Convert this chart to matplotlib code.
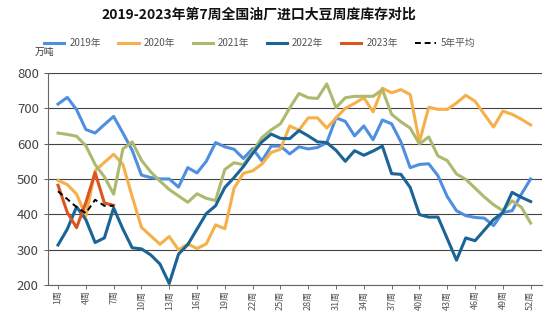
import numpy as np
import matplotlib
matplotlib.use('Agg')
import matplotlib.pyplot as plt

plt.rcParams['font.family'] = ['Noto Sans CJK SC', 'DejaVu Sans']

weeks = np.arange(1, 53)
tick_weeks = list(range(1, 53, 3))
tick_labels = [f'{w}周' for w in tick_weeks]

y2019 = [712, 731, 696, 640, 630, 654, 677, 630, 581, 511, 504, 500, 500, 477, 532, 517,
         550, 603, 591, 584, 558, 586, 551, 593, 593, 571, 591, 585, 589, 603, 673, 663,
         622, 650, 611, 667, 656, 605, 532, 541, 543, 509, 450, 410, 396, 391, 389, 368,
         405, 410, 457, 500]
y2020 = [496, 484, 457, 395, 523, 547, 570, 541, 450, 363, 339, 315, 337, 299, 316, 303,
         316, 370, 359, 474, 516, 523, 542, 575, 584, 650, 638, 673, 673, 644, 673, 700,
         714, 730, 690, 757, 744, 753, 739, 605, 703, 697, 697, 715, 737, 720, 683, 647,
         692, 683, 669, 653]
y2021 = [630, 626, 621, 594, 541, 506, 457, 585, 605, 553, 520, 494, 470, 452, 434, 458,
         445, 439, 527, 546, 540, 577, 617, 639, 656, 701, 742, 730, 728, 769, 702, 730,
         734, 734, 734, 753, 683, 662, 644, 599, 619, 565, 552, 514, 499, 474, 449, 427,
         410, 438, 420, 375]
y2022 = [313, 358, 421, 385, 320, 333, 418, 358, 305, 302, 285, 259, 204, 287, 314, 358,
         402, 424, 476, 504, 535, 572, 605, 627, 615, 614, 637, 622, 605, 603, 581, 550,
         580, 567, 579, 593, 515, 513, 476, 399, 392, 392, 331, 270, 333, 325, 355, 385,
         405, 462, 448, 436]
y2023 = [482, 405, 362, 433, 518, 432, 425]
avg5 = [465, 443, 420, 403, 441, 424, 424]

series = [('2019年', y2019, '#4f8fe0'),
          ('2020年', y2020, '#f5b04a'),
          ('2021年', y2021, '#adb96f'),
          ('2022年', y2022, '#1b6496'),
          ('2023年', y2023, '#dc5520')]

fig = plt.figure(figsize=(5.5, 3.23), dpi=100)
ax = fig.add_axes([0.087, 0.118, 0.898, 0.656])

for name, vals, col in series:
    ax.plot(weeks[:len(vals)], vals, color=col, linewidth=2.2, label=name, zorder=3)
ax.plot(weeks[:len(avg5)], avg5, color='black', linewidth=1.4, linestyle='--',
        dashes=(3, 2), label='5年平均', zorder=4)

ax.set_xlim(-0.1, 53.2)
ax.set_ylim(200, 800)
ax.set_yticks(range(200, 801, 100))
ax.set_xticks(tick_weeks)
ax.set_xticklabels(tick_labels, rotation=90, fontsize=6.5, color='#555555')
ax.tick_params(axis='y', labelsize=9.5, colors='#444444', length=3, width=0.6)
ax.tick_params(axis='x', length=3, width=0.6, colors='#555555', pad=1)
ax.grid(axis='y', color='#444444', linewidth=0.8, zorder=0)
ax.set_axisbelow(True)
for s in ['top', 'right']:
    ax.spines[s].set_visible(False)
for s in ['left', 'bottom']:
    ax.spines[s].set_color('#666666')
    ax.spines[s].set_linewidth(0.8)

fig.text(0.471, 0.955, '2019-2023年第7周全国油厂进口大豆周度库存对比', ha='center', va='center',
         fontsize=10, fontweight='bold', color='#111111')
fig.text(0.063, 0.838, '万吨', ha='left', va='center', fontsize=7, color='#333333')
fig.legend(loc='center', bbox_to_anchor=(0.472, 0.867), ncol=6, frameon=False,
           fontsize=7, handlelength=2.1, columnspacing=1.8, handletextpad=0.5,
           labelcolor='#555555')

fig.savefig('out.png', dpi=100)
